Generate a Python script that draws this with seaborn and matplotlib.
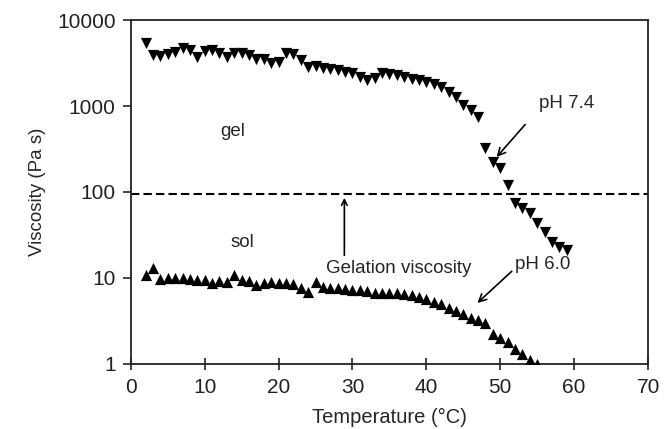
import numpy as np
import pandas as pd
import matplotlib
matplotlib.use("Agg")
import matplotlib.pyplot as plt
import seaborn as sns

# %% Datos

temp_74 = list(range(2, 60))
visc_74 = [5400, 3900, 3800, 4000, 4300, 4700, 4500, 3700, 4400, 4450,
           4200, 3700, 4100, 4100, 3900, 3500, 3500, 3200, 3300, 4100,
           4000, 3400, 2850, 2900, 2750, 2700, 2600, 2500, 2400, 2200,
           2000, 2100, 2400, 2350, 2300, 2200, 2050, 2000, 1900, 1800,
           1650, 1450, 1260, 1030, 895, 745, 325, 224, 190, 121,
           74, 65, 57, 44, 34, 26, 23, 21]

temp_60 = list(range(2, 56))
visc_60 = [10.8, 13.0, 9.8, 10.0, 10.0, 10.0, 9.8, 9.5, 9.5, 8.8,
           9.2, 9.0, 10.8, 9.5, 9.2, 8.3, 8.8, 9.0, 8.8, 8.8,
           8.6, 7.6, 6.9, 9.0, 7.8, 7.6, 7.6, 7.5, 7.2, 7.2,
           7.0, 6.7, 6.7, 6.7, 6.6, 6.5, 6.4, 6.0, 5.7, 5.3,
           4.9, 4.5, 4.1, 3.8, 3.4, 3.2, 3.0, 2.2, 2.0, 1.8,
           1.5, 1.3, 1.1, 1.0]

viscosidad_gelacion = 95
ticks_x = [0, 10, 20, 30, 40, 50, 60, 70]
ticks_y = [1, 10, 100, 1000, 10000]

df_74 = pd.DataFrame({"T": temp_74, "visc": visc_74})
df_60 = pd.DataFrame({"T": temp_60, "visc": visc_60})

# %% Grafico

sns.set_style("white")
plt.rcParams["font.family"] = ["Liberation Sans", "DejaVu Sans"]

fig = plt.figure(figsize=(6.64, 4.29), dpi=100)
ax = fig.add_axes([0.197, 0.152, 0.779, 0.801])

sns.scatterplot(data=df_74, x="T", y="visc", marker="v", color="black",
                s=65, edgecolor="black", linewidth=0, ax=ax, zorder=3)
sns.scatterplot(data=df_60, x="T", y="visc", marker="^", color="black",
                s=65, edgecolor="black", linewidth=0, ax=ax, zorder=3)

ax.axhline(viscosidad_gelacion, color="black", linestyle=(0, (4, 2)), linewidth=1.5)

ax.set_yscale("log")
ax.set_xlim(0, 70)
ax.set_ylim(1, 10000)
ax.set_xticks(ticks_x)
ax.set_yticks(ticks_y)
ax.set_yticklabels([str(t) for t in ticks_y])
ax.yaxis.set_minor_locator(matplotlib.ticker.NullLocator())

ax.tick_params(axis="x", direction="inout", length=8, width=1.2, labelsize=15,
               pad=6, bottom=True, labelcolor="#222222")
ax.tick_params(axis="y", direction="out", length=6, width=1.2, labelsize=15,
               pad=5, left=True, labelcolor="#222222")
for s in ax.spines.values():
    s.set_color("#222222")
    s.set_linewidth(1.3)

ax.set_xlabel("Temperature (°C)", fontsize=14.5, labelpad=8)
ax.set_ylabel("Viscosity (Pa s)", fontsize=13.5, labelpad=8)

# Anotaciones
ax.text(13.8, 500, "gel", fontsize=13.5, ha="center", va="center")
ax.text(15.1, 26, "sol", fontsize=13.5, ha="center", va="center")
ax.text(36.2, 13, "Gelation viscosity", fontsize=13.5, ha="center", va="center")
ax.annotate("", xy=(28.9, 92), xytext=(28.9, 17),
            arrowprops=dict(arrowstyle="->", color="black", lw=1.2))
ax.annotate("pH 7.4", xy=(49.5, 255), xytext=(55.3, 1080), fontsize=13.5,
            va="center", ha="left",
            arrowprops=dict(arrowstyle="->", color="black", lw=1.2,
                            shrinkA=12, shrinkB=0,
                            relpos=(0, 0.2)))
ax.annotate("pH 6.0", xy=(46.9, 5.1), xytext=(52.0, 14.2), fontsize=13.5,
            va="center", ha="left",
            arrowprops=dict(arrowstyle="->", color="black", lw=1.2,
                            shrinkA=0, shrinkB=0, relpos=(0, 0.3)))

fig.savefig("out.png", dpi=100)
